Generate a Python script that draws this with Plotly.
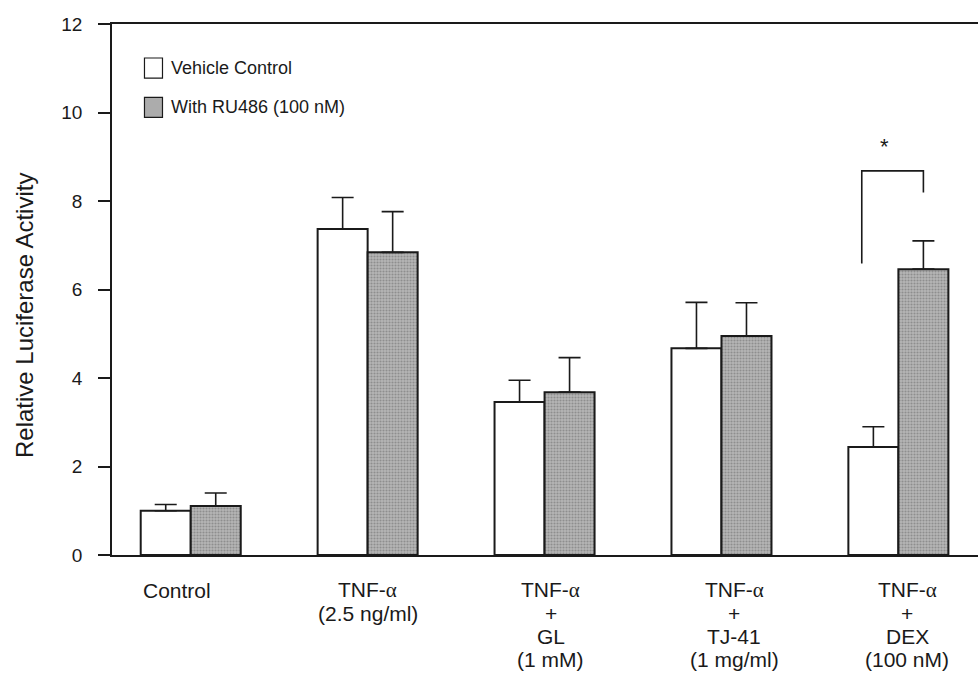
import plotly.graph_objects as go

# Treatment groups (one per x position) and their multi-line labels
group_lines = [
    ["Control"],
    ["TNF-α", "(2.5 ng/ml)"],
    ["TNF-α", "+", "GL", "(1 mM)"],
    ["TNF-α", "+", "TJ-41", "(1 mg/ml)"],
    ["TNF-α", "+", "DEX", "(100 nM)"],
]
label_xshift = [-14, 0, 6, 13, 9]

series_names = ["Vehicle Control", "With RU486 (100 nM)"]

# Relative luciferase activity (mean) and upper SD
vehicle = [1.00, 7.37, 3.46, 4.67, 2.44]
vehicle_err = [0.14, 0.71, 0.49, 1.04, 0.46]
ru486 = [1.11, 6.84, 3.68, 4.95, 6.46]
ru486_err = [0.29, 0.92, 0.78, 0.75, 0.64]

y_ticks = [0, 2, 4, 6, 8, 10, 12]
y_title = "Relative Luciferase Activity"

# Significance bracket over the DEX group: left foot, top, right foot
sig_group = 4
sig_levels = [6.59, 8.68, 8.19]

FONT = "Liberation Sans, Arial, Helvetica, sans-serif"
INK = "#1a1a1a"
GRAY = "#acacac"
BAR_W = 0.2827

x = list(range(len(group_lines)))

fig = go.Figure()

fig.add_trace(go.Bar(
    x=x, y=vehicle, name=series_names[0],
    width=BAR_W, offset=-BAR_W,
    marker=dict(color="white", line=dict(color=INK, width=2)),
    error_y=dict(type="data", array=vehicle_err, arrayminus=[0] * len(vehicle),
                 symmetric=False, color=INK, thickness=1.6, width=11),
    showlegend=False,
))
fig.add_trace(go.Bar(
    x=x, y=ru486, name=series_names[1],
    width=BAR_W, offset=0,
    marker=dict(color=GRAY, line=dict(color=INK, width=2),
                pattern=dict(shape=".", fgcolor="#8e8e8e", bgcolor="#b6b6b6",
                             size=3, solidity=0.4, fillmode="replace")),
    error_y=dict(type="data", array=ru486_err, arrayminus=[0] * len(ru486),
                 symmetric=False, color=INK, thickness=1.6, width=11),
    showlegend=False,
))

# Bracket marking the significant difference
bx_left = sig_group - 0.207
bx_right = sig_group + BAR_W / 2
fig.add_trace(go.Scatter(
    x=[bx_left, bx_left, bx_right, bx_right],
    y=[sig_levels[0], sig_levels[1], sig_levels[1], sig_levels[2]],
    mode="lines", line=dict(color=INK, width=1.6),
    showlegend=False, hoverinfo="skip",
))

annotations = [dict(
    x=(bx_left + bx_right) / 2 - 0.045, y=sig_levels[1] + 0.55, text="*",
    showarrow=False, font=dict(family=FONT, size=22, color=INK),
    xanchor="center", yanchor="middle",
)]

# Category labels below the axis, one annotation per line
line_step = 23.3
for i, lines in enumerate(group_lines):
    for j, txt in enumerate(lines):
        txt = txt.replace("α", "<span style=\"font-family:'Liberation Serif'\">α</span>")
        annotations.append(dict(
            x=i, y=0, xref="x", yref="y", text=txt, showarrow=False,
            xanchor="center", yanchor="middle",
            xshift=label_xshift[i], yshift=-(35 + line_step * j),
            font=dict(family=FONT, size=21, color=INK),
        ))

# Y-axis title
annotations.append(dict(
    x=0, y=0.45, xref="paper", yref="paper", text=y_title, textangle=-90,
    showarrow=False, xanchor="center", yanchor="middle", xshift=-88,
    font=dict(family=FONT, size=24, color=INK),
))

# Legend drawn inside the plotting area
legend_fills = ["white", GRAY]
legend_y = [0.917, 0.843]
shapes = []
for name, fill, ly in zip(series_names, legend_fills, legend_y):
    shapes.append(dict(type="rect", xref="paper", yref="paper",
                       x0=0.0375, x1=0.0583, y0=ly - 0.019, y1=ly + 0.019,
                       fillcolor=fill, line=dict(color=INK, width=1.2)))
    annotations.append(dict(x=0.066, y=ly, xref="paper", yref="paper", text=name,
                            showarrow=False, xanchor="left", yanchor="middle",
                            font=dict(family=FONT, size=18, color=INK)))

fig.update_layout(
    width=978, height=681, autosize=False,
    margin=dict(l=112, r=0, t=24, b=126, pad=0),
    paper_bgcolor="white", plot_bgcolor="white",
    barmode="overlay",
    shapes=shapes, annotations=annotations,
    xaxis=dict(range=[-0.445, 4.45], showgrid=False, zeroline=False,
               showticklabels=False, ticks="", showline=True, linecolor=INK,
               linewidth=1.5, mirror=True),
    yaxis=dict(range=[0, 12], tickvals=y_ticks, showgrid=False, zeroline=False,
               ticks="outside", ticklen=12, tickwidth=1.5, tickcolor=INK,
               showline=True, linecolor=INK, linewidth=1.6,
               ticklabelstandoff=12,
               tickfont=dict(family=FONT, size=19, color=INK)),
    font=dict(family=FONT, color=INK),
)

fig.write_html("out.html")
